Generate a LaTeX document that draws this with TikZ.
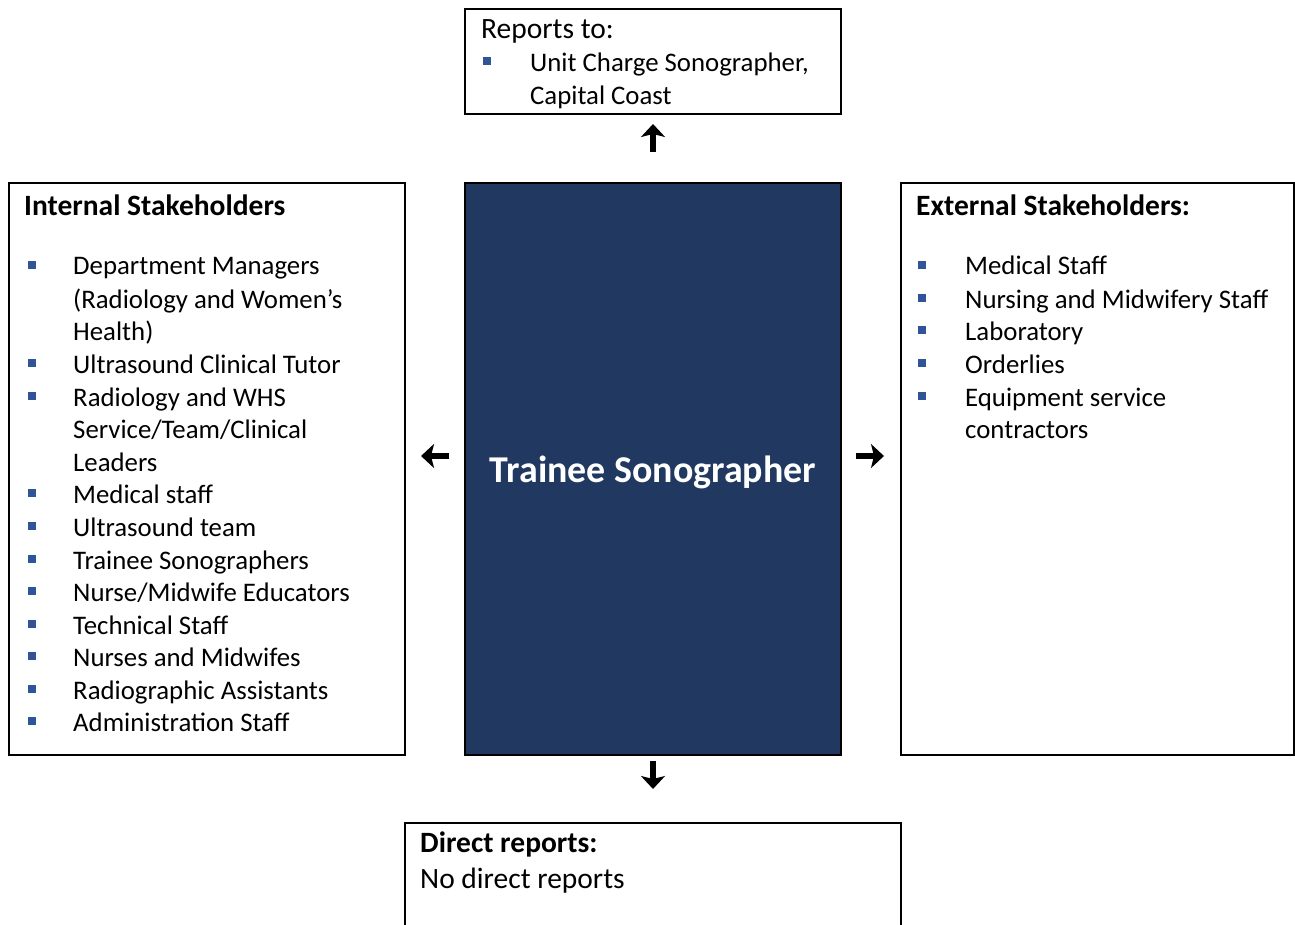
\documentclass[tikz,border=0pt]{standalone}
\usepackage{fontspec}
\setmainfont{Carlito}
\usetikzlibrary{arrows.meta}
\definecolor{navy}{RGB}{33,56,96}
\definecolor{bul}{RGB}{47,85,151}
\begin{document}
\begin{tikzpicture}[x=1pt,y=-1pt,
 box/.style={draw=black,line width=2pt,inner sep=0pt,outer sep=0pt,anchor=north west},
 txt/.style={anchor=base west,inner sep=0pt,font=\fontsize{26.8}{32.6}\selectfont},
 ltxt/.style={anchor=base west,inner sep=0pt,font=\fontsize{29.5}{34}\selectfont},
 btxt/.style={anchor=base west,inner sep=0pt,font=\fontsize{29.5}{34}\selectfont\bfseries},
 bullet/.style={fill=bul,minimum size=7.5pt,inner sep=0pt},
 garrow/.style={line width=5.5pt,-{Stealth[width=24pt,length=13pt,inset=3pt]}}]
\useasboundingbox (0,0) rectangle (1295,925);
\clip (0,0) rectangle (1295,925);
% boxes
\node[box,minimum width=376pt,minimum height=105pt] (top) at (465,9) {};
\node[box,minimum width=396pt,minimum height=572pt] (left) at (9,183) {};
\node[box,fill=navy,minimum width=376pt,minimum height=572pt] (center) at (465,183) {};
\node[box,minimum width=393pt,minimum height=572pt] (right) at (901,183) {};
\node[box,minimum width=496pt,minimum height=130pt] (bottom) at (405,823) {};
% centre title
\node[anchor=base,inner sep=0pt,text=white,font=\fontsize{37.9}{42}\selectfont\bfseries] (title) at (653,482) {Trainee Sonographer};
% top box
\node[ltxt] (t0) at (481,39) {Reports to:};
\node[bullet] (tb1) at (487,61) {};
\node[txt] (t1) at (530,72) {Unit Charge Sonographer,};
\node[txt] (t2) at (530,105) {Capital Coast};
% left box
\node[btxt] (l0) at (24,216) {Internal Stakeholders};
\node[txt] (l1) at (73,275) {Department Managers};
\node[txt] (l2) at (73,308) {(Radiology and Women’s};
\node[txt] (l3) at (73,340) {Health)};
\node[txt] (l4) at (73,373) {Ultrasound Clinical Tutor};
\node[txt] (l5) at (73,406) {Radiology and WHS};
\node[txt] (l6) at (73,438) {Service/Team/Clinical};
\node[txt] (l7) at (73,471) {Leaders};
\node[txt] (l8) at (73,503) {Medical staff};
\node[txt] (l9) at (73,536) {Ultrasound team};
\node[txt] (l10) at (73,569) {Trainee Sonographers};
\node[txt] (l11) at (73,601) {Nurse/Midwife Educators};
\node[txt] (l12) at (73,634) {Technical Staff};
\node[txt] (l13) at (73,666) {Nurses and Midwifes};
\node[txt] (l14) at (73,699) {Radiographic Assistants};
\node[txt] (l15) at (73,731) {Administration Staff};
\node[bullet] (lb1) at (32,265) {};
\node[bullet] (lb4) at (32,363) {};
\node[bullet] (lb5) at (32,396) {};
\node[bullet] (lb8) at (32,493) {};
\node[bullet] (lb9) at (32,526) {};
\node[bullet] (lb10) at (32,559) {};
\node[bullet] (lb11) at (32,591) {};
\node[bullet] (lb12) at (32,624) {};
\node[bullet] (lb13) at (32,656) {};
\node[bullet] (lb14) at (32,689) {};
\node[bullet] (lb15) at (32,721) {};
% right box
\node[btxt] (r0) at (916,216) {External Stakeholders:};
\node[txt] (r1) at (965,275) {Medical Staff};
\node[txt] (r2) at (965,308) {Nursing and Midwifery Staff};
\node[txt] (r3) at (965,340) {Laboratory};
\node[txt] (r4) at (965,373) {Orderlies};
\node[txt] (r5) at (965,406) {Equipment service};
\node[txt] (r6) at (965,438) {contractors};
\node[bullet] (rb1) at (922,265) {};
\node[bullet] (rb2) at (922,298) {};
\node[bullet] (rb3) at (922,330) {};
\node[bullet] (rb4) at (922,363) {};
\node[bullet] (rb5) at (922,396) {};
% bottom box
\node[btxt] (b0) at (420,852) {Direct reports:};
\node[ltxt] (b1) at (420,888) {No direct reports};
% arrows
\coordinate (ua1) at (653,152);
\coordinate (ua2) at (653,124);
\coordinate (la1) at (449,456);
\coordinate (la2) at (421,456);
\coordinate (ra1) at (856,456);
\coordinate (ra2) at (884,456);
\coordinate (da1) at (653,761);
\coordinate (da2) at (653,789);
\draw[garrow] (ua1) -- (ua2);
\draw[garrow] (la1) -- (la2);
\draw[garrow] (ra1) -- (ra2);
\draw[garrow] (da1) -- (da2);
\end{tikzpicture}
\end{document}
